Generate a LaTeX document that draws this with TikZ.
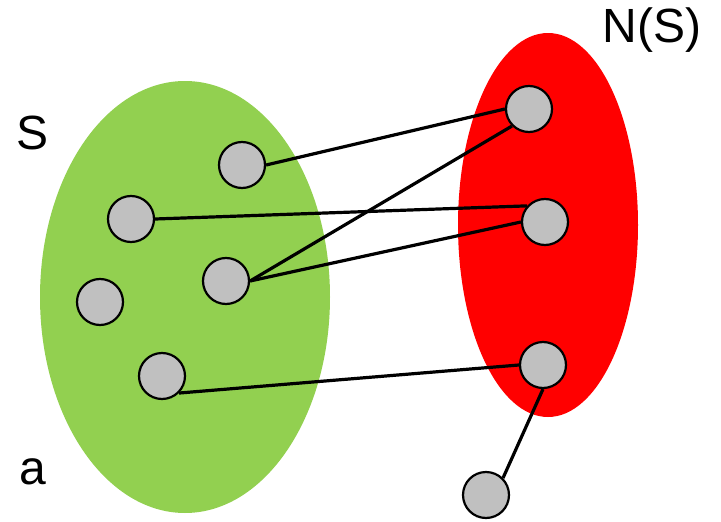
\documentclass[tikz,border=0pt]{standalone}
\usepackage{fontspec}
\setmainfont{Liberation Sans}
\definecolor{setgreen}{HTML}{92D050}
\definecolor{setred}{HTML}{FF0000}
\definecolor{vgray}{HTML}{C0C0C0}
\begin{document}
\begin{tikzpicture}[x=1pt,y=-1pt,
  vert/.style={circle,draw=black,line width=2.2pt,fill=vgray,minimum size=46pt,inner sep=0pt},
  edge/.style={line width=3.2pt,draw=black},
  lbl/.style={anchor=base,inner sep=0pt,font=\fontsize{48}{58}\selectfont}]
\useasboundingbox (0,0) rectangle (721,522);
\fill[setgreen] (185,297) ellipse [x radius=145, y radius=216];
\fill[setred] (548,225) ellipse [x radius=90, y radius=192];
\node[lbl] (lS) at (33,149) {S};
\node[lbl] (la) at (33,484) {a};
\node[lbl] (lN) at (652,42) {N(S)};
\node[vert] (g1) at (242,165) {};
\node[vert] (g2) at (131,219) {};
\node[vert] (g3) at (226,281) {};
\node[vert] (g4) at (100,302) {};
\node[vert] (g5) at (162,376) {};
\node[vert] (r1) at (529,109) {};
\node[vert] (r2) at (545,222) {};
\node[vert] (r3) at (543,365) {};
\node[vert] (b) at (486,495) {};
\begin{scope}[on background layer/.style={}]
\draw[edge] (g1.east) -- (r1.west);
\draw[edge] (g2.east) -- (r2.138);
\draw[edge] (g3.east) -- (r1.225);
\draw[edge] (g3.east) -- (r2.west);
\draw[edge] (g5.315) -- (r3.west);
\draw[edge] (r3.south) -- (b.45);
\end{scope}
\end{tikzpicture}
\end{document}
